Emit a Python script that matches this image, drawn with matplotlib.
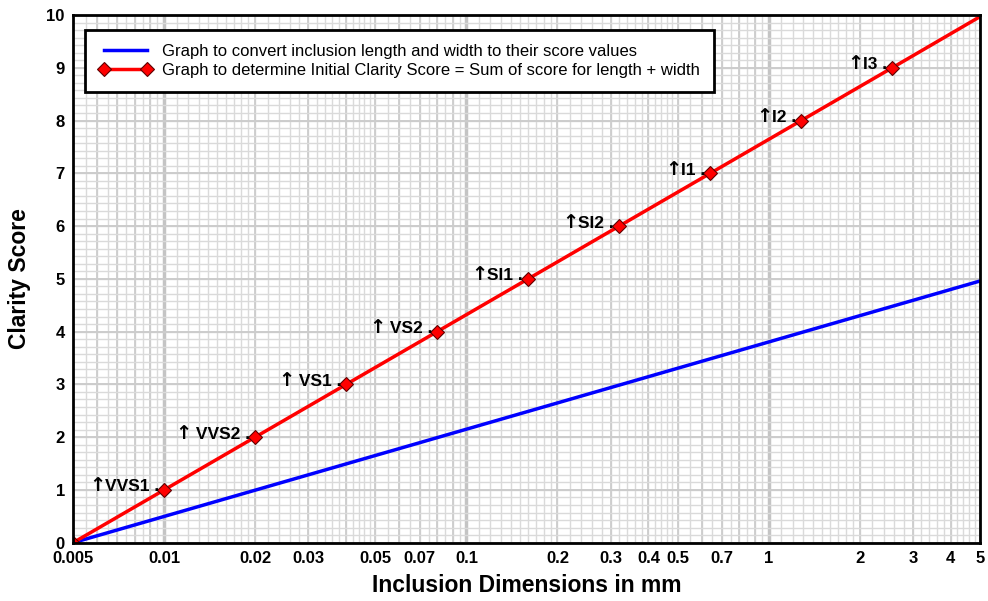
import numpy as np
import matplotlib
matplotlib.use("Agg")
from matplotlib import pyplot as plt
from matplotlib.ticker import FixedLocator, NullFormatter

plt.rcParams["font.family"] = ["Liberation Sans", "DejaVu Sans"]

# data
red_x = [0.005, 0.01, 0.02, 0.04, 0.08, 0.16, 0.32, 0.64, 1.28, 2.56, 5.0]
red_y = [0, 1, 2, 3, 4, 5, 6, 7, 8, 9, 9.97]
blue_x = [0.005, 5.0]
blue_y = [0, 4.96]
grade_labels = ["VVS1", " VVS2", " VS1", " VS2", "SI1", "SI2", "I1", "I2", "I3"]
xtick_vals = [0.005, 0.01, 0.02, 0.03, 0.05, 0.07, 0.1, 0.2, 0.3, 0.4, 0.5, 0.7,
              1, 2, 3, 4, 5]
xtick_text = ["0.005", "0.01", "0.02", "0.03", "0.05", "0.07", "0.1", "0.2", "0.3",
              "0.4", "0.5", "0.7", "1", "2", "3", "4", "5"]


def fine_grid():
    vals = []
    for d in [0.001, 0.01, 0.1, 1.0]:
        vals += [d * (1 + 0.1 * k) for k in range(10)]
        vals += [d * (2 + 0.2 * k) for k in range(15)]
        vals += [d * (5 + 0.5 * k) for k in range(10)]
    return [v for v in vals if 0.005 <= v <= 5]


fig = plt.figure(figsize=(9.88, 6.01), dpi=100)
ax = fig.add_axes([0.074, 0.097, 0.918, 0.878])
ax.set_xscale("log")
ax.set_xlim(0.005, 5)
ax.set_ylim(0, 10)

# graph-paper grid
for v in fine_grid():
    ax.axvline(v, color="#dadada", lw=1.0, zorder=0)
for d in [0.001, 0.01, 0.1, 1.0]:
    for m in range(2, 10):
        v = d * m
        if 0.005 <= v <= 5:
            ax.axvline(v, color="#cccccc", lw=1.3, zorder=0)
for v in [0.01, 0.1, 1]:
    ax.axvline(v, color="#c4c4c4", lw=2.5, zorder=0)
for v in np.linspace(0, 10, 71):
    ax.axhline(v, color="#dadada", lw=1.0, zorder=0)
for v in range(11):
    ax.axhline(v, color="#cccccc", lw=1.4, zorder=0)

ax.plot(blue_x, blue_y, color="#0000ff", lw=2.5, zorder=3,
        label="Graph to convert inclusion length and width to their score values")
ax.plot(red_x, red_y, color="#ff0000", lw=2.5, marker="D", markersize=7,
        markerfacecolor="#ff0000", markeredgecolor="#600000", markeredgewidth=0.8,
        markevery=list(range(10)), zorder=4,
        label="Graph to determine Initial Clarity Score = Sum of score for length + width")

for x, y, t in zip(red_x[1:10], red_y[1:10], grade_labels):
    lab = ax.annotate(t + " .", (x, y), xytext=(-5, 3),
                      textcoords="offset pixels", ha="right", va="center",
                      fontsize=12.5, fontweight="bold", zorder=5)
    ax.annotate("\u2191", xy=(0, 0.5), xycoords=lab, xytext=(0.5, 1),
                textcoords="offset pixels", ha="right", va="center",
                fontsize=14, family="DejaVu Sans", fontweight="bold", zorder=5)

ax.xaxis.set_major_locator(FixedLocator(xtick_vals))
ax.set_xticklabels(xtick_text)
ax.xaxis.set_minor_formatter(NullFormatter())
ax.xaxis.set_minor_locator(FixedLocator([]))
ax.set_yticks(range(11))
ax.tick_params(length=0, labelsize=12, pad=6)
for lab in ax.get_xticklabels() + ax.get_yticklabels():
    lab.set_fontweight("bold")

ax.set_xlabel("Inclusion Dimensions in mm", fontsize=16.5, fontweight="bold", labelpad=6)
ax.set_ylabel("Clarity Score", fontsize=16.5, fontweight="bold", labelpad=11)

for s in ax.spines.values():
    s.set_linewidth(2)
    s.set_color("black")
    s.set_zorder(6)

leg = ax.legend(loc="upper left", bbox_to_anchor=(0.013, 0.972), borderaxespad=0,
                fontsize=12, numpoints=2, handlelength=3.2, frameon=True,
                fancybox=False, borderpad=0.85, labelspacing=0.25,
                handletextpad=0.6, framealpha=1)
leg.get_frame().set_edgecolor("black")
leg.get_frame().set_linewidth(2)
leg.set_zorder(7)

fig.savefig("out.png", dpi=100)
